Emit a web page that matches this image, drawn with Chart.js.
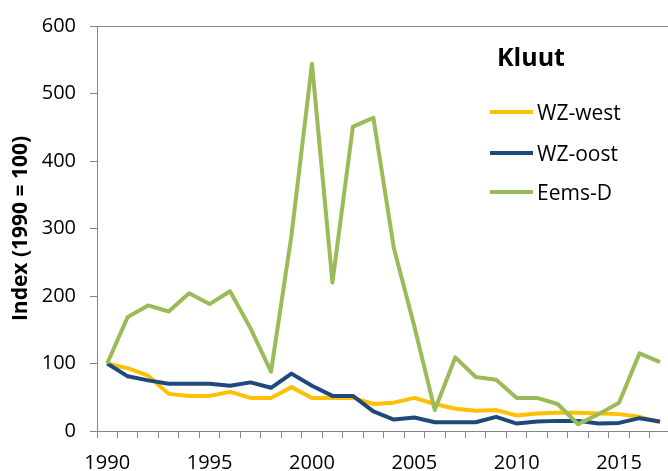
<!DOCTYPE html>
<html>
<head>
<meta charset="utf-8">
<script src="https://cdn.jsdelivr.net/npm/chart.js@4.4.1/dist/chart.umd.min.js"></script>
<style>
  html, body { margin: 0; padding: 0; background: #fff; overflow: hidden; }
  #wrap { position: relative; width: 673px; height: 471px; }
  #kluutTitle {
    position: absolute; left: 497px; top: 44px;
    font: bold 25px "Open Sans", sans-serif; line-height: 1; color: #000;
  }
  .legItem {
    position: absolute; left: 490px; height: 24px;
    display: flex; align-items: center;
    font: 21px "Open Sans", sans-serif; line-height: 24px; color: #000;
  }
  .legItem span.sw { display: inline-block; width: 43px; height: 4px; margin-right: 4px; }
</style>
</head>
<body>
<div id="wrap">
  <canvas id="kluutChart"></canvas>
  <div id="kluutTitle">Kluut</div>
</div>
<script>
const years = [1990, 1991, 1992, 1993, 1994, 1995, 1996, 1997, 1998, 1999,
  2000, 2001, 2002, 2003, 2004, 2005, 2006, 2007, 2008, 2009,
  2010, 2011, 2012, 2013, 2014, 2015, 2016, 2017];

const wzWest = [100, 93, 82, 55, 52, 52, 58, 49, 49, 65,
  49, 49, 49, 40, 42, 49, 40, 33, 30, 31,
  23, 26, 27, 27, 26, 25, 21, 13];

const wzOost = [100, 81, 75, 70, 70, 70, 67, 72, 64, 85,
  67, 52, 52, 29, 17, 20, 13, 13, 13, 21,
  11, 14, 15, 15, 11, 12, 19, 14];

const eemsD = [100, 169, 186, 177, 204, 188, 207, 152, 88, 290,
  544, 220, 451, 464, 271, 155, 31, 109, 80, 76,
  49, 49, 40, 10, 25, 42, 115, 102];

const seriesNames = ['WZ-west', 'WZ-oost', 'Eems-D'];
const seriesColors = ['#FFC000', '#1F497D', '#9BBB59'];
const yTicks = [0, 100, 200, 300, 400, 500, 600];

const axisGray = '#868686';
const tickFont = { family: 'Open Sans', size: 20 };

// legend as plain html, built from the series arrays
const legendTops = [100, 141, 180];
seriesNames.forEach((name, i) => {
  const el = document.createElement('div');
  el.className = 'legItem';
  el.style.top = legendTops[i] + 'px';
  el.innerHTML = `<span class="sw" style="background:${seriesColors[i]}"></span>${name}`;
  document.getElementById('wrap').appendChild(el);
});

const seriesData = [wzWest, wzOost, eemsD];
const ctx = document.getElementById('kluutChart').getContext('2d');
new Chart(ctx, {
  type: 'line',
  data: {
    labels: years,
    datasets: seriesData.map((vals, i) => ({
      label: seriesNames[i],
      data: vals,
      borderColor: seriesColors[i],
      backgroundColor: seriesColors[i],
      borderWidth: 4,
      pointRadius: 0,
      tension: 0,
      fill: false,
      borderJoinStyle: 'round',
      order: 3 - i
    }))
  },
  options: {
    responsive: true,
    maintainAspectRatio: false,
    animation: false,
    layout: { padding: { top: 20, right: 0, left: 0, bottom: 0 } },
    plugins: {
      legend: { display: false },
      tooltip: { enabled: false }
    },
    scales: {
      x: {
        type: 'category',
        offset: true,
        afterFit: (scale) => { scale.height = 40; },
        grid: {
          offset: true,
          drawOnChartArea: false,
          drawTicks: true,
          tickLength: 7,
          color: axisGray,
          tickColor: axisGray
        },
        border: { display: true, color: axisGray, width: 1 },
        ticks: {
          autoSkip: false,
          maxRotation: 0,
          padding: 13,
          color: '#000',
          font: tickFont,
          callback: function (val, i) {
            return years[i] % 5 === 0 ? String(years[i]) : '';
          }
        }
      },
      y: {
        min: 0,
        max: 600,
        afterFit: (scale) => { scale.width = 97; },
        afterBuildTicks: (scale) => { scale.ticks = yTicks.map(v => ({ value: v })); },
        grid: {
          drawOnChartArea: true,
          tickLength: 7,
          color: (c) => (c.tick && c.tick.value === 600 ? axisGray : 'rgba(0,0,0,0)'),
          tickColor: axisGray
        },
        border: { display: true, color: axisGray, width: 1 },
        ticks: {
          padding: 14,
          color: '#000',
          font: tickFont
        },
        title: {
          display: true,
          text: 'Index (1990 = 100)',
          color: '#000',
          font: { family: 'Open Sans', size: 21, weight: 'bold' },
          padding: { top: 8, bottom: 0 }
        }
      }
    }
  }
});
</script>
</body>
</html>
